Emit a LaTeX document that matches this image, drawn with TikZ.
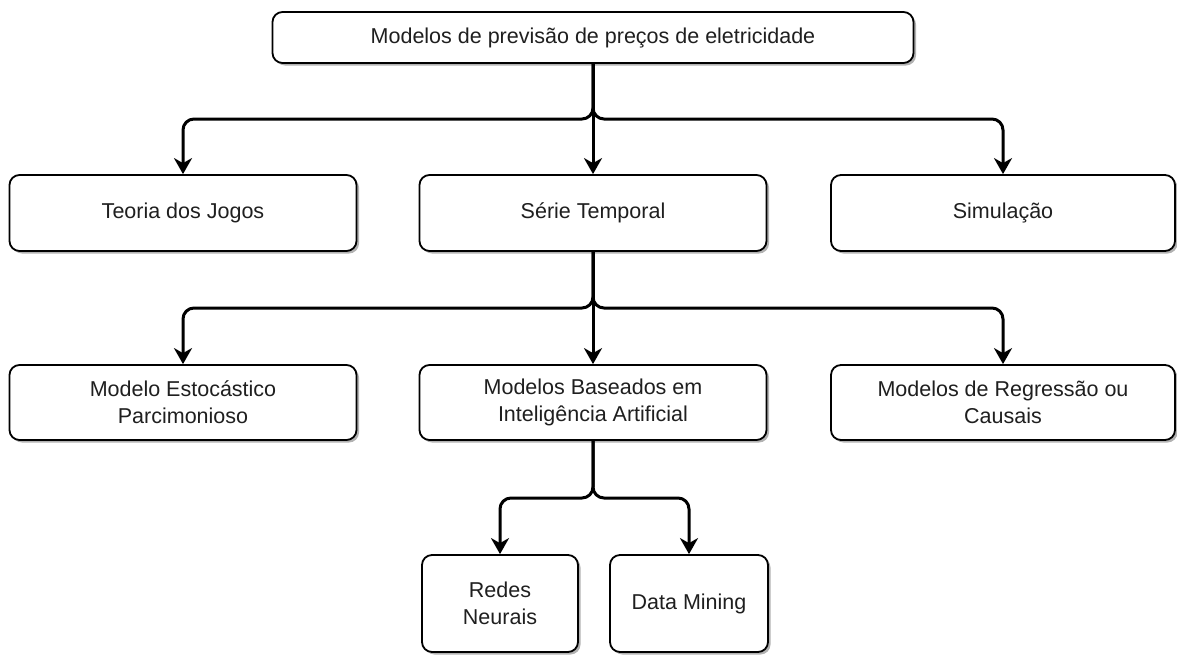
\documentclass[tikz,border=0pt]{standalone}
\usepackage{fontspec}
\setmainfont{Liberation Sans}
\usetikzlibrary{arrows.meta,shadows}
\begin{document}
\begin{tikzpicture}[x=1pt,y=-1pt,
 box/.style={draw=black, line width=1.8pt, rounded corners=10pt, fill=white, align=center,
   text=black!88, font=\fontsize{21.5}{27}\selectfont, inner sep=0pt,
   drop shadow={shadow xshift=2.5pt, shadow yshift=-2.5pt, fill=black, opacity=0.3}},
 conn/.style={line width=3pt, rounded corners=11pt, -{Stealth[length=16pt,width=18pt,inset=5pt]}},
]
\useasboundingbox (0,0) rectangle (1177,654);
% level 1
\node[box, minimum width=641pt, minimum height=51pt] (top) at (593,37.5) {Modelos de previsão de preços de eletricidade};
% level 2
\node[box, minimum width=347pt, minimum height=76pt] (teoria) at (183,213) {Teoria dos Jogos};
\node[box, minimum width=347pt, minimum height=76pt] (serie) at (593,213) {Série Temporal};
\node[box, minimum width=344pt, minimum height=76pt] (simul) at (1003,213) {Simulação};
% level 3
\node[box, minimum width=347pt, minimum height=75pt] (estoc) at (183,402.5) {Modelo Estocástico\\Parcimonioso};
\node[box, minimum width=347pt, minimum height=75pt] (ia) at (593,402.5) {Modelos Baseados em\\Inteligência Artificial};
\node[box, minimum width=344pt, minimum height=75pt] (regr) at (1003,402.5) {Modelos de Regressão ou\\Causais};
% level 4
\node[box, minimum width=156pt, minimum height=97pt] (redes) at (500,603.5) {Redes\\Neurais};
\node[box, minimum width=158pt, minimum height=97pt] (dm) at (689,603.5) {Data Mining};
% junction levels
\coordinate (h1) at (0,119);
\coordinate (h2) at (0,308);
\coordinate (h3) at (0,498);
% connectors
\draw[conn] (top.south) -- (top.south |- h1) -| (teoria.north);
\draw[conn] (top.south) -- (serie.north);
\draw[conn] (top.south) -- (top.south |- h1) -| (simul.north);
\draw[conn] (serie.south) -- (serie.south |- h2) -| (estoc.north);
\draw[conn] (serie.south) -- (ia.north);
\draw[conn] (serie.south) -- (serie.south |- h2) -| (regr.north);
\draw[conn] (ia.south) -- (ia.south |- h3) -| (redes.north);
\draw[conn] (ia.south) -- (ia.south |- h3) -| (dm.north);
\end{tikzpicture}
\end{document}
